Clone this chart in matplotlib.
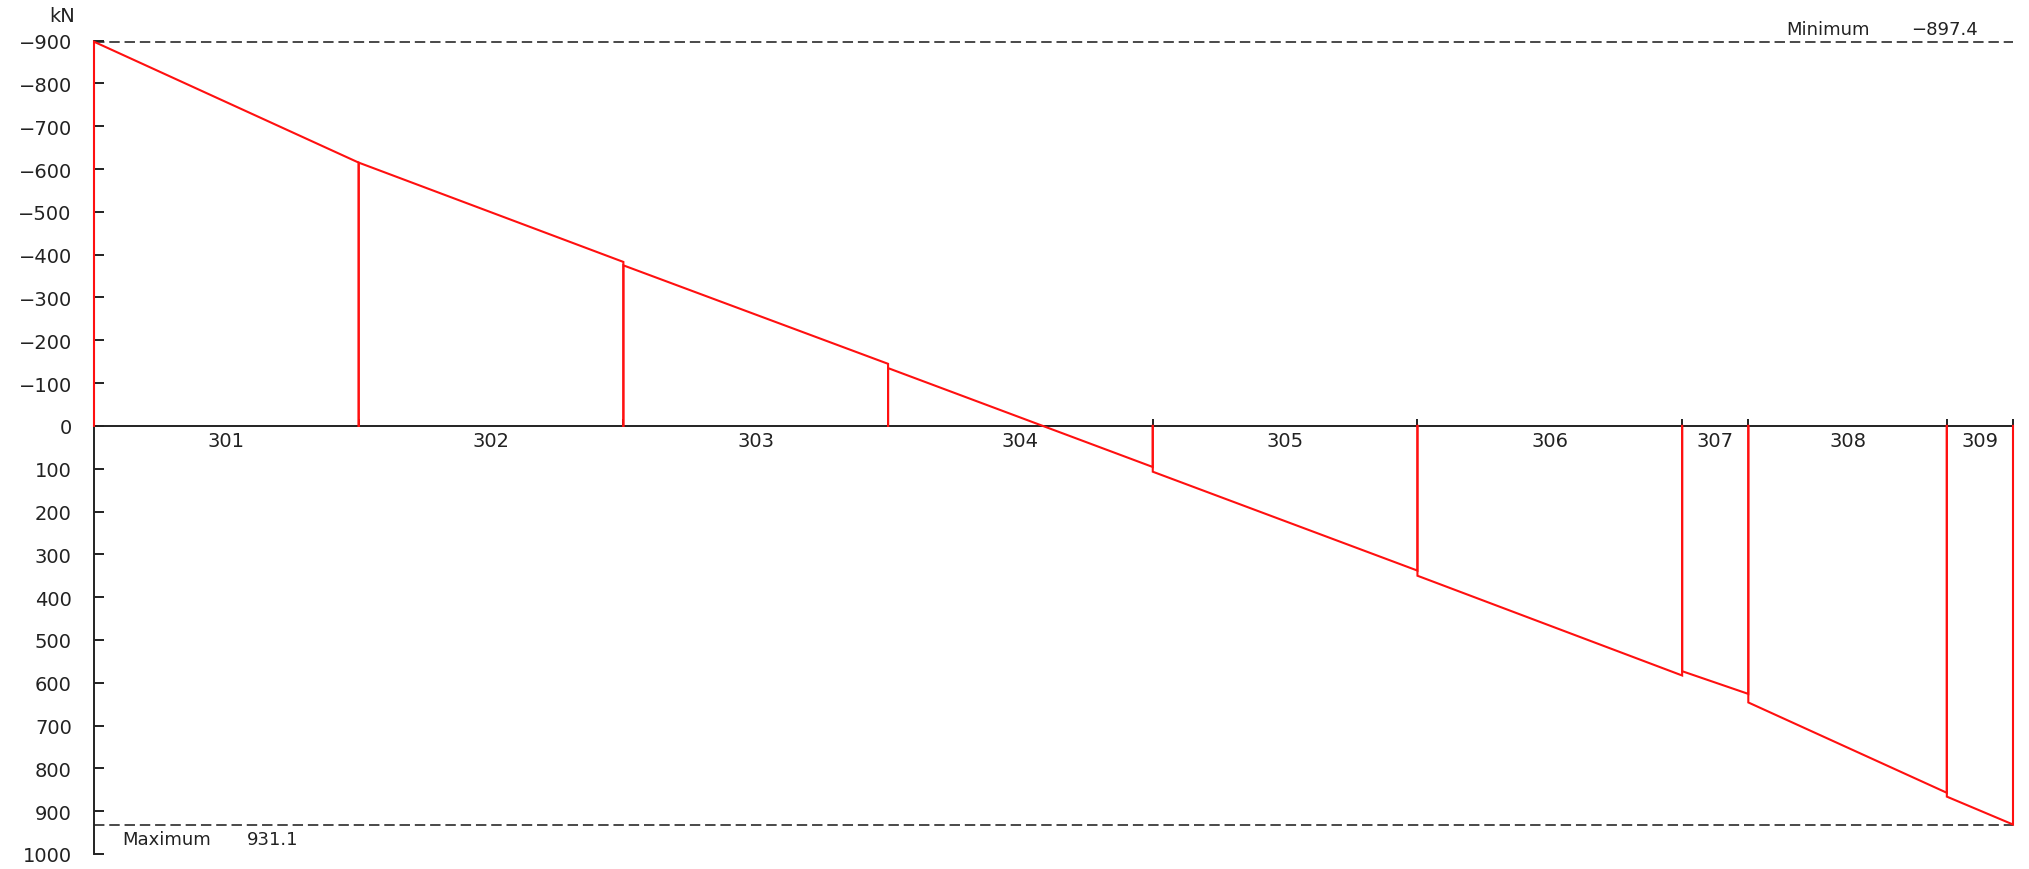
import matplotlib
matplotlib.use("Agg")
import matplotlib.pyplot as plt
import numpy as np

plt.rcParams['font.family'] = ['DejaVu Sans']
plt.rcParams['lines.scale_dashes'] = False

# Member data
members = ["301", "302", "303", "304", "305", "306", "307", "308", "309"]
boundaries = [0, 4, 8, 12, 16, 20, 24, 25, 28, 29]
start_vals = [-897.4, -615, -375, -135, 107, 350, 573, 646, 866]
end_vals = [-615, -383, -145, 96, 338, 583, 626, 857, 931.1]

y_ticks = list(range(-900, 1001, 100))
min_val = -897.4
max_val = 931.1
unit = "kN"

W, H = 2029, 870
fig = plt.figure(figsize=(W / 100, H / 100), dpi=100)
ax = fig.add_axes([94 / W, 1 - 855 / H, (2013 - 94) / W, (855 - 41.6) / H])

ax.set_xlim(boundaries[0], boundaries[-1])
ax.set_ylim(1000, -900)

red = "#ff1010"
ink = "#222222"
# zero axis
ax.axhline(0, color=ink, lw=1.4, zorder=2, clip_on=False)
# boundary ticks (upward)
ax.vlines(boundaries, 0, -17, color=ink, lw=1.4, zorder=2, clip_on=False)

for i, name in enumerate(members):
    x0, x1 = boundaries[i], boundaries[i + 1]
    ax.plot([x0, x0, x1, x1], [0, start_vals[i], end_vals[i], 0],
            color=red, lw=1.5, zorder=3, solid_joinstyle='miter', clip_on=False)
    ax.annotate(name, xy=((x0 + x1) / 2, 0), xytext=(0, -4), textcoords="offset points",
                ha="center", va="top", fontsize=14, color=ink)

# min / max dashed lines
dash = (0, (7.5, 3.5))
ax.plot([boundaries[0], boundaries[-1]], [min_val, min_val], color="#2a2a2a",
        lw=1.2, linestyle=dash, zorder=1, clip_on=False)
ax.plot([boundaries[0], boundaries[-1]], [max_val, max_val], color="#2a2a2a",
        lw=1.2, linestyle=dash, zorder=1, clip_on=False)

def fmt(v):
    return f"{v:.1f}".replace("-", "\u2212")

ax.annotate("Minimum", xy=(25.57, min_val), xytext=(0, 3), textcoords="offset points",
            ha="left", va="bottom", fontsize=13, color=ink, annotation_clip=False)
ax.annotate(fmt(min_val), xy=(28.47, min_val), xytext=(0, 3), textcoords="offset points",
            ha="right", va="bottom", fontsize=13, color=ink, annotation_clip=False)
ax.annotate("Maximum", xy=(0.42, max_val), xytext=(0, -4), textcoords="offset points",
            ha="left", va="top", fontsize=13, color=ink, annotation_clip=False)
ax.annotate(fmt(max_val), xy=(2.31, max_val), xytext=(0, -4), textcoords="offset points",
            ha="left", va="top", fontsize=13, color=ink, annotation_clip=False)

# axes styling
for s in ["top", "right", "bottom"]:
    ax.spines[s].set_visible(False)
ax.spines["left"].set_color(ink)
ax.spines["left"].set_linewidth(1.4)
ax.set_xticks([])
ax.set_yticks(y_ticks)
ax.set_yticklabels([str(v).replace("-", "\u2212") for v in y_ticks])
ax.tick_params(axis="y", direction="in", length=7, width=1.4, color=ink,
               labelsize=14, labelcolor=ink, pad=16)

fig.text(62 / W, 1 - 17 / H, unit, ha="center", va="center", fontsize=14, color=ink)

fig.savefig("out.png", dpi=100, facecolor="white")
